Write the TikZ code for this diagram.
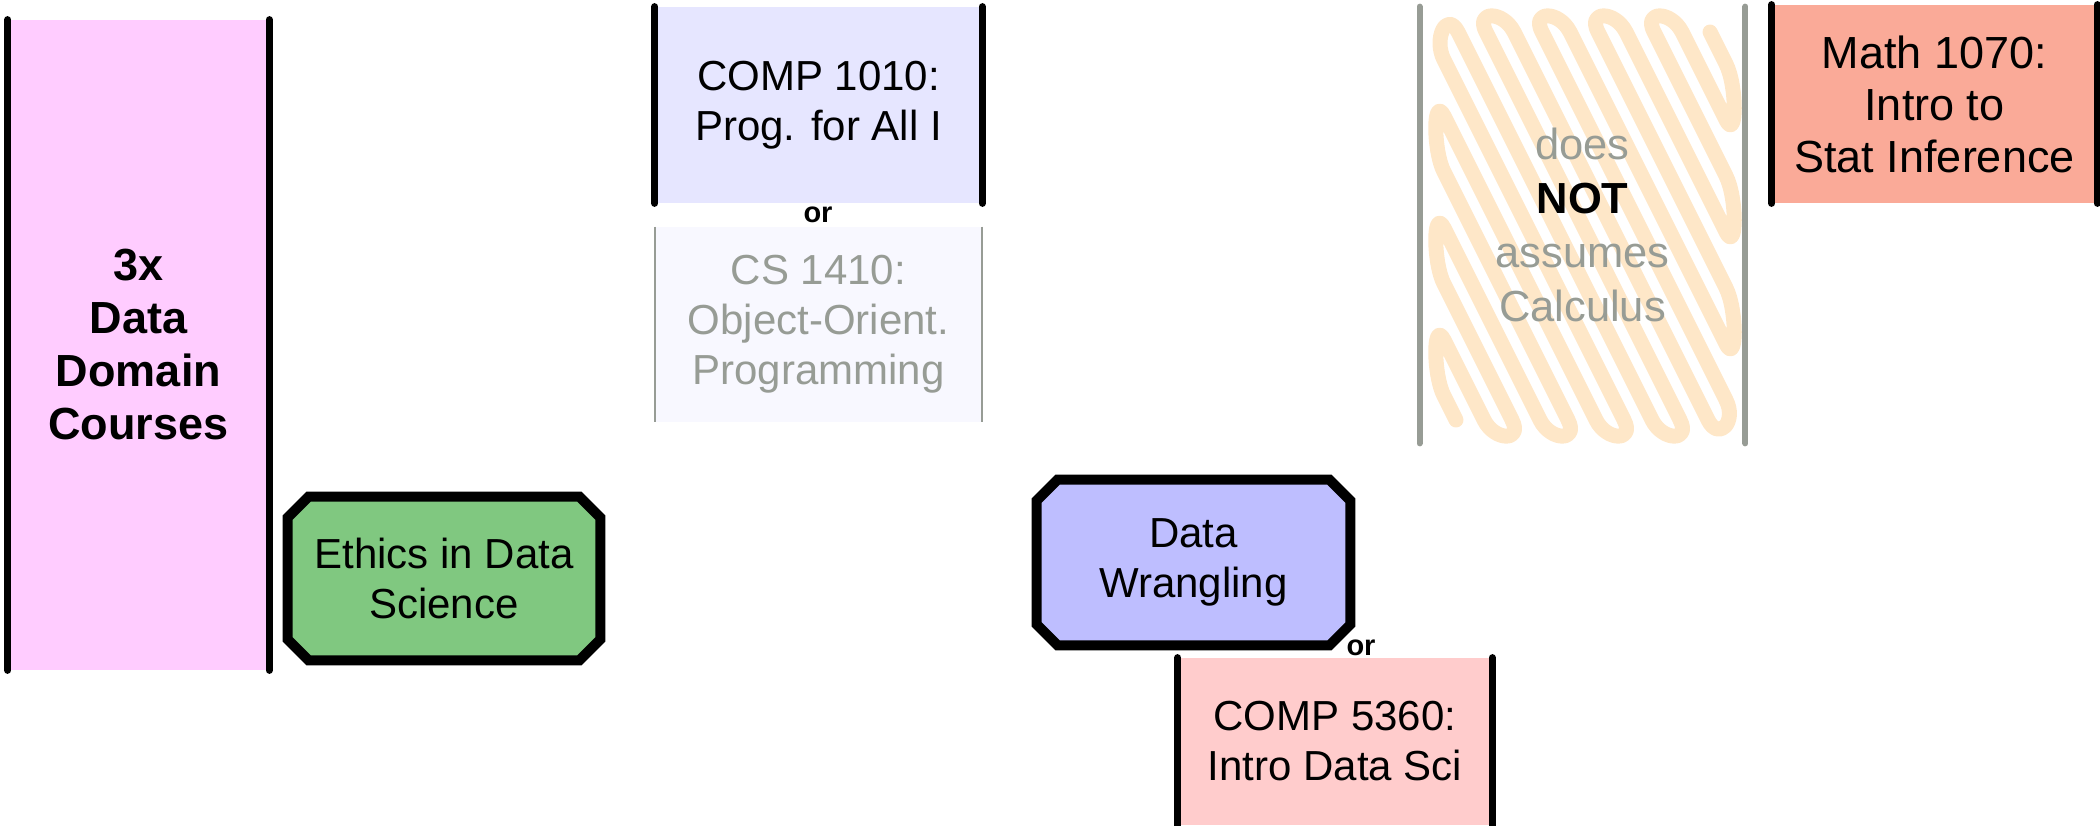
\documentclass[tikz,border=0pt]{standalone}
\usepackage{fontspec}
\setmainfont{Liberation Sans}
\pgfdeclarelayer{background}
\pgfsetlayers{background,main}
\definecolor{pinkfill}{HTML}{FFCCFF}
\definecolor{greenfill}{HTML}{80C880}
\definecolor{wranglefill}{HTML}{BEBEFF}
\definecolor{lavfill}{HTML}{E6E6FF}
\definecolor{palefill}{HTML}{F8F8FF}
\definecolor{mathfill}{HTML}{FAAA98}
\definecolor{rosefill}{HTML}{FFCCCC}
\definecolor{greytext}{HTML}{979C95}
\definecolor{scribble}{HTML}{FEE7C8}
\newcommand{\chamferpath}[3]{%
  \begin{pgfonlayer}{background}
  \draw[chamfline, fill=#2] ([xshift=#3]#1.north west) -- ([xshift=-#3]#1.north east)
    -- ([yshift=-#3]#1.north east) -- ([yshift=#3]#1.south east)
    -- ([xshift=-#3]#1.south east) -- ([xshift=#3]#1.south west)
    -- ([yshift=#3]#1.south west) -- ([yshift=-#3]#1.north west) -- cycle;
  \end{pgfonlayer}}
\begin{document}
\begin{tikzpicture}[x=0.5pt,y=-0.5pt,
  box/.style={inner sep=0pt, align=center, font=\fontsize{21}{25}\selectfont},
  sideline/.style={line width=3.5pt, line cap=round},
  thinside/.style={line width=1pt, draw=greytext},
  greyside/.style={line width=3pt, line cap=round, draw=greytext},
  chamfline/.style={draw=black, line width=5pt},
  ortext/.style={inner sep=0pt, font=\bfseries\fontsize{14.5}{16}\selectfont},
  scrib/.style={draw=scribble, line width=7.5pt, line cap=round, line join=round}
]
\useasboundingbox (0,0) rectangle (2100,825);

% 3x Data Domain Courses
\node[box, fill=pinkfill, minimum width=130.5pt, minimum height=325pt,
  font=\bfseries\fontsize{22.5}{26.5}\selectfont] (dom) at (138.5,345) {3x\\Data\\Domain\\Courses};
\draw[sideline] (dom.north west) -- (dom.south west);
\draw[sideline] (dom.north east) -- (dom.south east);

% Ethics
\node[box, minimum width=156pt, minimum height=81.5pt] (eth) at (444,578.5) {Ethics in Data\\Science};
\chamferpath{eth}{greenfill}{10.5pt}

% COMP 1010
\node[box, fill=lavfill, minimum width=163.5pt, minimum height=98pt] (c1010) at (818.5,105) {COMP 1010:\\Prog. for All I};
\draw[sideline] (c1010.north west) -- (c1010.south west);
\draw[sideline] (c1010.north east) -- (c1010.south east);

\node[ortext] (or1) at (818,215) {or};

% CS 1410
\node[box, fill=palefill, text=greytext, minimum width=163.5pt, minimum height=97.5pt] (cs1410) at (818.5,324.5) {CS 1410:\\Object-Orient.\\Programming};
\draw[thinside] (cs1410.north west) -- (cs1410.south west);
\draw[thinside] (cs1410.north east) -- (cs1410.south east);

% does NOT assume calculus
\node[box, minimum width=162.5pt, minimum height=218pt] (calc) at (1582.5,225) {};
\begin{scope}
\clip (1423,7) rectangle (1742,443);
\draw[scrib] (1456,420) -- (1444,396) .. controls (1433,374.5) and (1433,318.5) .. (1444,340)
  -- (1484,420) .. controls (1495,441.5) and (1523,441.5) .. (1512,420)
  -- (1444,284) .. controls (1433,262.5) and (1433,206.5) .. (1444,228)
  -- (1540,420) .. controls (1551,441.5) and (1579,441.5) .. (1568,420)
  -- (1444,172) .. controls (1433,150.5) and (1433,94.5) .. (1444,116)
  -- (1596,420) .. controls (1607,441.5) and (1635,441.5) .. (1624,420)
  -- (1444,60) .. controls (1433,38.5) and (1447,10.5) .. (1458,32)
  -- (1652,420) .. controls (1663,441.5) and (1691,441.5) .. (1680,420)
  -- (1486,32) .. controls (1475,10.5) and (1503,10.5) .. (1514,32)
  -- (1708,420) .. controls (1719,441.5) and (1737,421.5) .. (1726,400)
  -- (1542,32) .. controls (1531,10.5) and (1559,10.5) .. (1570,32)
  -- (1726,344) .. controls (1737,365.5) and (1737,309.5) .. (1726,288)
  -- (1598,32) .. controls (1587,10.5) and (1615,10.5) .. (1626,32)
  -- (1726,232) .. controls (1737,253.5) and (1737,197.5) .. (1726,176)
  -- (1654,32) .. controls (1643,10.5) and (1671,10.5) .. (1682,32)
  -- (1726,120) .. controls (1737,141.5) and (1737,85.5) .. (1726,64)
  -- (1710,32);
\end{scope}
\node[box, text=greytext, font=\fontsize{21.75}{27}\selectfont] (calctext) at (calc.center) {does\\{\bfseries\color{black}NOT}\\assumes\\Calculus};
\draw[greyside] (calc.north west) -- (calc.south west);
\draw[greyside] (calc.north east) -- (calc.south east);

% Math 1070
\node[box, fill=mathfill, minimum width=162.5pt, minimum height=99pt,
  font=\fontsize{22.5}{26}\selectfont] (m1070) at (1934.5,104) {Math 1070:\\Intro to\\Stat Inference};
\draw[sideline] (m1070.north west) -- (m1070.south west);
\draw[sideline] (m1070.north east) -- (m1070.south east);

% Data Wrangling
\node[box, minimum width=156.5pt, minimum height=82.5pt] (wrang) at (1193.5,562.5) {Data\\Wrangling};
\chamferpath{wrang}{wranglefill}{10.5pt}

\node[ortext] (or2) at (1361,647.5) {or};

% COMP 5360
\node[box, fill=rosefill, minimum width=157pt, minimum height=83.5pt] (c5360) at (1335,741.5) {COMP 5360:\\Intro Data Sci};
\draw[sideline] (c5360.north west) -- (c5360.south west);
\draw[sideline] (c5360.north east) -- (c5360.south east);
\end{tikzpicture}
\end{document}
